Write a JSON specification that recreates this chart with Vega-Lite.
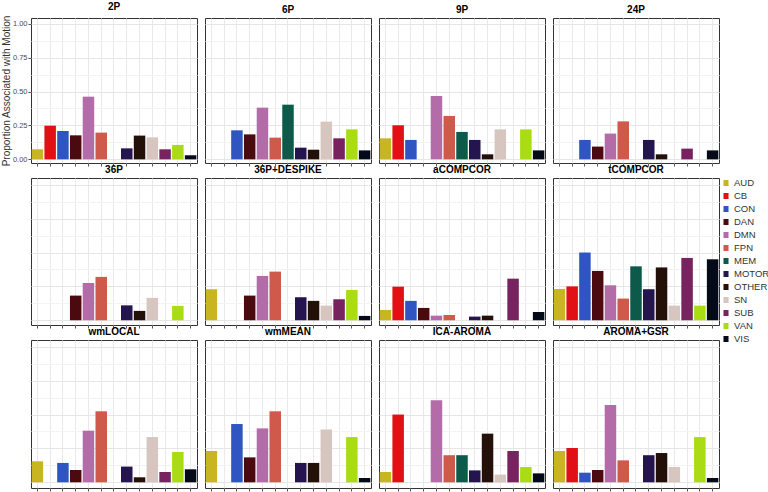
{
  "$schema": "https://vega.github.io/schema/vega-lite/v6.json",
  "padding": {"left": 0, "top": 1, "right": 2, "bottom": 2},
  "background": "white",
  "datasets": {
    "d": [
      {"p":"2P","n":"AUD","v":0.074},{"p":"2P","n":"CB","v":0.248},{"p":"2P","n":"CON","v":0.209},{"p":"2P","n":"DAN","v":0.177},{"p":"2P","n":"DMN","v":0.462},{"p":"2P","n":"FPN","v":0.197},{"p":"2P","n":"MOTOR","v":0.081},{"p":"2P","n":"OTHER","v":0.175},{"p":"2P","n":"SN","v":0.162},{"p":"2P","n":"SUB","v":0.074},{"p":"2P","n":"VAN","v":0.106},{"p":"2P","n":"VIS","v":0.03},
      {"p":"6P","n":"CON","v":0.214},{"p":"6P","n":"DAN","v":0.184},{"p":"6P","n":"DMN","v":0.381},{"p":"6P","n":"FPN","v":0.16},{"p":"6P","n":"MEM","v":0.403},{"p":"6P","n":"MOTOR","v":0.086},{"p":"6P","n":"OTHER","v":0.071},{"p":"6P","n":"SN","v":0.278},{"p":"6P","n":"SUB","v":0.155},{"p":"6P","n":"VAN","v":0.221},{"p":"6P","n":"VIS","v":0.066},
      {"p":"9P","n":"AUD","v":0.155},{"p":"9P","n":"CB","v":0.251},{"p":"9P","n":"CON","v":0.143},{"p":"9P","n":"DMN","v":0.467},{"p":"9P","n":"FPN","v":0.32},{"p":"9P","n":"MEM","v":0.202},{"p":"9P","n":"MOTOR","v":0.143},{"p":"9P","n":"OTHER","v":0.037},{"p":"9P","n":"SN","v":0.221},{"p":"9P","n":"VAN","v":0.221},{"p":"9P","n":"VIS","v":0.066},
      {"p":"24P","n":"CON","v":0.143},{"p":"24P","n":"DAN","v":0.094},{"p":"24P","n":"DMN","v":0.19},{"p":"24P","n":"FPN","v":0.28},{"p":"24P","n":"MOTOR","v":0.143},{"p":"24P","n":"OTHER","v":0.037},{"p":"24P","n":"SUB","v":0.079},{"p":"24P","n":"VIS","v":0.066},
      {"p":"36P","n":"DAN","v":0.182},{"p":"36P","n":"DMN","v":0.275},{"p":"36P","n":"FPN","v":0.32},{"p":"36P","n":"MOTOR","v":0.11},{"p":"36P","n":"OTHER","v":0.069},{"p":"36P","n":"SN","v":0.165},{"p":"36P","n":"VAN","v":0.106},
      {"p":"36P+DESPIKE","n":"AUD","v":0.229},{"p":"36P+DESPIKE","n":"DAN","v":0.182},{"p":"36P+DESPIKE","n":"DMN","v":0.327},{"p":"36P+DESPIKE","n":"FPN","v":0.359},{"p":"36P+DESPIKE","n":"MOTOR","v":0.17},{"p":"36P+DESPIKE","n":"OTHER","v":0.143},{"p":"36P+DESPIKE","n":"SN","v":0.108},{"p":"36P+DESPIKE","n":"SUB","v":0.155},{"p":"36P+DESPIKE","n":"VAN","v":0.224},{"p":"36P+DESPIKE","n":"VIS","v":0.032},
      {"p":"aCOMPCOR","n":"AUD","v":0.076},{"p":"aCOMPCOR","n":"CB","v":0.248},{"p":"aCOMPCOR","n":"CON","v":0.143},{"p":"aCOMPCOR","n":"DAN","v":0.091},{"p":"aCOMPCOR","n":"DMN","v":0.034},{"p":"aCOMPCOR","n":"FPN","v":0.039},{"p":"aCOMPCOR","n":"MOTOR","v":0.027},{"p":"aCOMPCOR","n":"OTHER","v":0.034},{"p":"aCOMPCOR","n":"SUB","v":0.307},{"p":"aCOMPCOR","n":"VIS","v":0.061},
      {"p":"tCOMPCOR","n":"AUD","v":0.231},{"p":"tCOMPCOR","n":"CB","v":0.25},{"p":"tCOMPCOR","n":"CON","v":0.5},{"p":"tCOMPCOR","n":"DAN","v":0.364},{"p":"tCOMPCOR","n":"DMN","v":0.258},{"p":"tCOMPCOR","n":"FPN","v":0.16},{"p":"tCOMPCOR","n":"MEM","v":0.398},{"p":"tCOMPCOR","n":"MOTOR","v":0.229},{"p":"tCOMPCOR","n":"OTHER","v":0.39},{"p":"tCOMPCOR","n":"SN","v":0.108},{"p":"tCOMPCOR","n":"SUB","v":0.46},{"p":"tCOMPCOR","n":"VAN","v":0.108},{"p":"tCOMPCOR","n":"VIS","v":0.45},
      {"p":"wmLOCAL","n":"AUD","v":0.155},{"p":"wmLOCAL","n":"CON","v":0.143},{"p":"wmLOCAL","n":"DAN","v":0.091},{"p":"wmLOCAL","n":"DMN","v":0.381},{"p":"wmLOCAL","n":"FPN","v":0.524},{"p":"wmLOCAL","n":"MOTOR","v":0.116},{"p":"wmLOCAL","n":"OTHER","v":0.037},{"p":"wmLOCAL","n":"SN","v":0.334},{"p":"wmLOCAL","n":"SUB","v":0.076},{"p":"wmLOCAL","n":"VAN","v":0.224},{"p":"wmLOCAL","n":"VIS","v":0.096},
      {"p":"wmMEAN","n":"AUD","v":0.231},{"p":"wmMEAN","n":"CON","v":0.43},{"p":"wmMEAN","n":"DAN","v":0.184},{"p":"wmMEAN","n":"DMN","v":0.398},{"p":"wmMEAN","n":"FPN","v":0.524},{"p":"wmMEAN","n":"MOTOR","v":0.143},{"p":"wmMEAN","n":"OTHER","v":0.143},{"p":"wmMEAN","n":"SN","v":0.39},{"p":"wmMEAN","n":"VAN","v":0.334},{"p":"wmMEAN","n":"VIS","v":0.032},
      {"p":"ICA-AROMA","n":"AUD","v":0.076},{"p":"ICA-AROMA","n":"CB","v":0.5},{"p":"ICA-AROMA","n":"DMN","v":0.605},{"p":"ICA-AROMA","n":"FPN","v":0.2},{"p":"ICA-AROMA","n":"MEM","v":0.2},{"p":"ICA-AROMA","n":"MOTOR","v":0.088},{"p":"ICA-AROMA","n":"OTHER","v":0.359},{"p":"ICA-AROMA","n":"SN","v":0.057},{"p":"ICA-AROMA","n":"SUB","v":0.231},{"p":"ICA-AROMA","n":"VAN","v":0.113},{"p":"ICA-AROMA","n":"VIS","v":0.066},
      {"p":"AROMA+GSR","n":"AUD","v":0.231},{"p":"AROMA+GSR","n":"CB","v":0.253},{"p":"AROMA+GSR","n":"CON","v":0.071},{"p":"AROMA+GSR","n":"DAN","v":0.091},{"p":"AROMA+GSR","n":"DMN","v":0.57},{"p":"AROMA+GSR","n":"FPN","v":0.162},{"p":"AROMA+GSR","n":"MOTOR","v":0.2},{"p":"AROMA+GSR","n":"OTHER","v":0.216},{"p":"AROMA+GSR","n":"SN","v":0.113},{"p":"AROMA+GSR","n":"VAN","v":0.334},{"p":"AROMA+GSR","n":"VIS","v":0.032}
    ]
  },
  "data": {"name": "d"},
  "columns": 4,
  "spacing": {"column": 6, "row": -3},
  "resolve": {"scale": {"x": "independent", "y": "independent", "color": "shared"}, "axis": {"x": "independent", "y": "independent"}},
  "concat": [
    {"title": "2P", "width": 166, "height": 145, "transform": [{"filter": "datum.p === '2P'"}], "mark": {"type": "bar"},
     "encoding": {
       "x": {"field": "n", "type": "nominal", "scale": {"domain": ["AUD","CB","CON","DAN","DMN","FPN","MEM","MOTOR","OTHER","SN","SUB","VAN","VIS"], "paddingInner": 0.1, "paddingOuter": 0.05}, "axis": {"labels": false, "title": null, "domain": false, "ticks": true, "tickSize": 3, "tickColor": "#555", "grid": true, "gridColor": "#e9e9e9"}},
       "y": {"field": "v", "type": "quantitative", "scale": {"domain": [-0.027, 1.042], "nice": false, "zero": false}, "axis": {"values": [0,0.125,0.25,0.375,0.5,0.625,0.75,0.875,1], "labelExpr": "datum.value % 0.25 === 0 ? format(datum.value, '.2f') : ''", "title": "Proportion Associated with Motion", "titleFont": "Liberation Sans", "titleFontSize": 10, "titleFontWeight": "normal", "titleColor": "#333", "titlePadding": 1, "labelFont": "Liberation Sans", "labelFontSize": 7.5, "labelColor": "#4d4d4d", "labelPadding": 1, "domain": false, "tickSize": 3, "tickColor": {"condition": {"test": "datum.value % 0.25 === 0", "value": "#555"}, "value": "transparent"}, "grid": true, "gridColor": {"condition": {"test": "datum.value % 0.25 === 0", "value": "#e6e6e6"}, "value": "#f3f3f3"}}},
       "y2": {"datum": 0},
       "color": {"field": "n", "type": "nominal", "scale": {"domain": ["AUD","CB","CON","DAN","DMN","FPN","MEM","MOTOR","OTHER","SN","SUB","VAN","VIS"], "range": ["#c9b521","#e01014","#2f55c3","#4b0a10","#b36ca7","#cf5a4b","#0d5a4a","#24154f","#231009","#d7c5c0","#762360","#aadc14","#050a18"]}, "legend": {"title": null, "orient": "none", "legendX": 689, "legendY": 159}}
     }},
    {"title": "6P", "width": 166, "height": 145, "transform": [{"filter": "datum.p === '6P'"}], "mark": {"type": "bar"},
     "encoding": {
       "x": {"field": "n", "type": "nominal", "scale": {"domain": ["AUD","CB","CON","DAN","DMN","FPN","MEM","MOTOR","OTHER","SN","SUB","VAN","VIS"], "paddingInner": 0.1, "paddingOuter": 0.05}, "axis": {"labels": false, "title": null, "domain": false, "ticks": true, "tickSize": 3, "tickColor": "#555", "grid": true, "gridColor": "#e9e9e9"}},
       "y": {"field": "v", "type": "quantitative", "scale": {"domain": [-0.027, 1.042], "nice": false, "zero": false}, "axis": {"values": [0,0.125,0.25,0.375,0.5,0.625,0.75,0.875,1], "labels": false, "ticks": false, "title": null, "domain": false, "grid": true, "gridColor": {"condition": {"test": "datum.value % 0.25 === 0", "value": "#e6e6e6"}, "value": "#f3f3f3"}}},
       "y2": {"datum": 0},
       "color": {"field": "n", "type": "nominal"}
     }},
    {"title": "9P", "width": 166, "height": 145, "transform": [{"filter": "datum.p === '9P'"}], "mark": {"type": "bar"},
     "encoding": {
       "x": {"field": "n", "type": "nominal", "scale": {"domain": ["AUD","CB","CON","DAN","DMN","FPN","MEM","MOTOR","OTHER","SN","SUB","VAN","VIS"], "paddingInner": 0.1, "paddingOuter": 0.05}, "axis": {"labels": false, "title": null, "domain": false, "ticks": true, "tickSize": 3, "tickColor": "#555", "grid": true, "gridColor": "#e9e9e9"}},
       "y": {"field": "v", "type": "quantitative", "scale": {"domain": [-0.027, 1.042], "nice": false, "zero": false}, "axis": {"values": [0,0.125,0.25,0.375,0.5,0.625,0.75,0.875,1], "labels": false, "ticks": false, "title": null, "domain": false, "grid": true, "gridColor": {"condition": {"test": "datum.value % 0.25 === 0", "value": "#e6e6e6"}, "value": "#f3f3f3"}}},
       "y2": {"datum": 0},
       "color": {"field": "n", "type": "nominal"}
     }},
    {"title": "24P", "width": 166, "height": 145, "transform": [{"filter": "datum.p === '24P'"}], "mark": {"type": "bar"},
     "encoding": {
       "x": {"field": "n", "type": "nominal", "scale": {"domain": ["AUD","CB","CON","DAN","DMN","FPN","MEM","MOTOR","OTHER","SN","SUB","VAN","VIS"], "paddingInner": 0.1, "paddingOuter": 0.05}, "axis": {"labels": false, "title": null, "domain": false, "ticks": true, "tickSize": 3, "tickColor": "#555", "grid": true, "gridColor": "#e9e9e9"}},
       "y": {"field": "v", "type": "quantitative", "scale": {"domain": [-0.027, 1.042], "nice": false, "zero": false}, "axis": {"values": [0,0.125,0.25,0.375,0.5,0.625,0.75,0.875,1], "labels": false, "ticks": false, "title": null, "domain": false, "grid": true, "gridColor": {"condition": {"test": "datum.value % 0.25 === 0", "value": "#e6e6e6"}, "value": "#f3f3f3"}}},
       "y2": {"datum": 0},
       "color": {"field": "n", "type": "nominal"}
     }},
    {"title": "36P", "width": 166, "height": 147, "transform": [{"filter": "datum.p === '36P'"}], "mark": {"type": "bar"},
     "encoding": {
       "x": {"field": "n", "type": "nominal", "scale": {"domain": ["AUD","CB","CON","DAN","DMN","FPN","MEM","MOTOR","OTHER","SN","SUB","VAN","VIS"], "paddingInner": 0.1, "paddingOuter": 0.05}, "axis": {"labels": false, "title": null, "domain": false, "ticks": true, "tickSize": 3, "tickColor": "#555", "grid": true, "gridColor": "#e9e9e9"}},
       "y": {"field": "v", "type": "quantitative", "scale": {"domain": [-0.035, 1.05], "nice": false, "zero": false}, "axis": {"values": [0,0.125,0.25,0.375,0.5,0.625,0.75,0.875,1], "labels": false, "ticks": false, "title": null, "domain": false, "grid": true, "gridColor": {"condition": {"test": "datum.value % 0.25 === 0", "value": "#e6e6e6"}, "value": "#f3f3f3"}}},
       "y2": {"datum": 0},
       "color": {"field": "n", "type": "nominal"}
     }},
    {"title": "36P+DESPIKE", "width": 166, "height": 147, "transform": [{"filter": "datum.p === '36P+DESPIKE'"}], "mark": {"type": "bar"},
     "encoding": {
       "x": {"field": "n", "type": "nominal", "scale": {"domain": ["AUD","CB","CON","DAN","DMN","FPN","MEM","MOTOR","OTHER","SN","SUB","VAN","VIS"], "paddingInner": 0.1, "paddingOuter": 0.05}, "axis": {"labels": false, "title": null, "domain": false, "ticks": true, "tickSize": 3, "tickColor": "#555", "grid": true, "gridColor": "#e9e9e9"}},
       "y": {"field": "v", "type": "quantitative", "scale": {"domain": [-0.035, 1.05], "nice": false, "zero": false}, "axis": {"values": [0,0.125,0.25,0.375,0.5,0.625,0.75,0.875,1], "labels": false, "ticks": false, "title": null, "domain": false, "grid": true, "gridColor": {"condition": {"test": "datum.value % 0.25 === 0", "value": "#e6e6e6"}, "value": "#f3f3f3"}}},
       "y2": {"datum": 0},
       "color": {"field": "n", "type": "nominal"}
     }},
    {"title": "aCOMPCOR", "width": 166, "height": 147, "transform": [{"filter": "datum.p === 'aCOMPCOR'"}], "mark": {"type": "bar"},
     "encoding": {
       "x": {"field": "n", "type": "nominal", "scale": {"domain": ["AUD","CB","CON","DAN","DMN","FPN","MEM","MOTOR","OTHER","SN","SUB","VAN","VIS"], "paddingInner": 0.1, "paddingOuter": 0.05}, "axis": {"labels": false, "title": null, "domain": false, "ticks": true, "tickSize": 3, "tickColor": "#555", "grid": true, "gridColor": "#e9e9e9"}},
       "y": {"field": "v", "type": "quantitative", "scale": {"domain": [-0.035, 1.05], "nice": false, "zero": false}, "axis": {"values": [0,0.125,0.25,0.375,0.5,0.625,0.75,0.875,1], "labels": false, "ticks": false, "title": null, "domain": false, "grid": true, "gridColor": {"condition": {"test": "datum.value % 0.25 === 0", "value": "#e6e6e6"}, "value": "#f3f3f3"}}},
       "y2": {"datum": 0},
       "color": {"field": "n", "type": "nominal"}
     }},
    {"title": "tCOMPCOR", "width": 166, "height": 147, "transform": [{"filter": "datum.p === 'tCOMPCOR'"}], "mark": {"type": "bar"},
     "encoding": {
       "x": {"field": "n", "type": "nominal", "scale": {"domain": ["AUD","CB","CON","DAN","DMN","FPN","MEM","MOTOR","OTHER","SN","SUB","VAN","VIS"], "paddingInner": 0.1, "paddingOuter": 0.05}, "axis": {"labels": false, "title": null, "domain": false, "ticks": true, "tickSize": 3, "tickColor": "#555", "grid": true, "gridColor": "#e9e9e9"}},
       "y": {"field": "v", "type": "quantitative", "scale": {"domain": [-0.035, 1.05], "nice": false, "zero": false}, "axis": {"values": [0,0.125,0.25,0.375,0.5,0.625,0.75,0.875,1], "labels": false, "ticks": false, "title": null, "domain": false, "grid": true, "gridColor": {"condition": {"test": "datum.value % 0.25 === 0", "value": "#e6e6e6"}, "value": "#f3f3f3"}}},
       "y2": {"datum": 0},
       "color": {"field": "n", "type": "nominal"}
     }},
    {"title": "wmLOCAL", "width": 166, "height": 148, "transform": [{"filter": "datum.p === 'wmLOCAL'"}], "mark": {"type": "bar"},
     "encoding": {
       "x": {"field": "n", "type": "nominal", "scale": {"domain": ["AUD","CB","CON","DAN","DMN","FPN","MEM","MOTOR","OTHER","SN","SUB","VAN","VIS"], "paddingInner": 0.1, "paddingOuter": 0.05}, "axis": {"labels": false, "title": null, "domain": false, "ticks": true, "tickSize": 3, "tickColor": "#555", "grid": true, "gridColor": "#e9e9e9"}},
       "y": {"field": "v", "type": "quantitative", "scale": {"domain": [-0.042, 1.05], "nice": false, "zero": false}, "axis": {"values": [0,0.125,0.25,0.375,0.5,0.625,0.75,0.875,1], "labels": false, "ticks": false, "title": null, "domain": false, "grid": true, "gridColor": {"condition": {"test": "datum.value % 0.25 === 0", "value": "#e6e6e6"}, "value": "#f3f3f3"}}},
       "y2": {"datum": 0},
       "color": {"field": "n", "type": "nominal"}
     }},
    {"title": "wmMEAN", "width": 166, "height": 148, "transform": [{"filter": "datum.p === 'wmMEAN'"}], "mark": {"type": "bar"},
     "encoding": {
       "x": {"field": "n", "type": "nominal", "scale": {"domain": ["AUD","CB","CON","DAN","DMN","FPN","MEM","MOTOR","OTHER","SN","SUB","VAN","VIS"], "paddingInner": 0.1, "paddingOuter": 0.05}, "axis": {"labels": false, "title": null, "domain": false, "ticks": true, "tickSize": 3, "tickColor": "#555", "grid": true, "gridColor": "#e9e9e9"}},
       "y": {"field": "v", "type": "quantitative", "scale": {"domain": [-0.042, 1.05], "nice": false, "zero": false}, "axis": {"values": [0,0.125,0.25,0.375,0.5,0.625,0.75,0.875,1], "labels": false, "ticks": false, "title": null, "domain": false, "grid": true, "gridColor": {"condition": {"test": "datum.value % 0.25 === 0", "value": "#e6e6e6"}, "value": "#f3f3f3"}}},
       "y2": {"datum": 0},
       "color": {"field": "n", "type": "nominal"}
     }},
    {"title": "ICA-AROMA", "width": 166, "height": 148, "transform": [{"filter": "datum.p === 'ICA-AROMA'"}], "mark": {"type": "bar"},
     "encoding": {
       "x": {"field": "n", "type": "nominal", "scale": {"domain": ["AUD","CB","CON","DAN","DMN","FPN","MEM","MOTOR","OTHER","SN","SUB","VAN","VIS"], "paddingInner": 0.1, "paddingOuter": 0.05}, "axis": {"labels": false, "title": null, "domain": false, "ticks": true, "tickSize": 3, "tickColor": "#555", "grid": true, "gridColor": "#e9e9e9"}},
       "y": {"field": "v", "type": "quantitative", "scale": {"domain": [-0.042, 1.05], "nice": false, "zero": false}, "axis": {"values": [0,0.125,0.25,0.375,0.5,0.625,0.75,0.875,1], "labels": false, "ticks": false, "title": null, "domain": false, "grid": true, "gridColor": {"condition": {"test": "datum.value % 0.25 === 0", "value": "#e6e6e6"}, "value": "#f3f3f3"}}},
       "y2": {"datum": 0},
       "color": {"field": "n", "type": "nominal"}
     }},
    {"title": "AROMA+GSR", "width": 166, "height": 148, "transform": [{"filter": "datum.p === 'AROMA+GSR'"}], "mark": {"type": "bar"},
     "encoding": {
       "x": {"field": "n", "type": "nominal", "scale": {"domain": ["AUD","CB","CON","DAN","DMN","FPN","MEM","MOTOR","OTHER","SN","SUB","VAN","VIS"], "paddingInner": 0.1, "paddingOuter": 0.05}, "axis": {"labels": false, "title": null, "domain": false, "ticks": true, "tickSize": 3, "tickColor": "#555", "grid": true, "gridColor": "#e9e9e9"}},
       "y": {"field": "v", "type": "quantitative", "scale": {"domain": [-0.042, 1.05], "nice": false, "zero": false}, "axis": {"values": [0,0.125,0.25,0.375,0.5,0.625,0.75,0.875,1], "labels": false, "ticks": false, "title": null, "domain": false, "grid": true, "gridColor": {"condition": {"test": "datum.value % 0.25 === 0", "value": "#e6e6e6"}, "value": "#f3f3f3"}}},
       "y2": {"datum": 0},
       "color": {"field": "n", "type": "nominal"}
     }}
  ],
  "config": {
    "view": {"stroke": "#333333", "strokeWidth": 1},
    "title": {"font": "Liberation Sans", "fontSize": 10, "fontWeight": "bold", "color": "#000000", "offset": 3},
    "legend": {"symbolType": "M-0.42,-0.5H0.42V0.5H-0.42Z", "symbolSize": 144, "symbolStrokeWidth": 0, "symbolOpacity": 1, "labelFont": "Liberation Sans", "labelFontSize": 9.5, "labelColor": "#333333", "labelOffset": 2, "rowPadding": 2}
  }
}
